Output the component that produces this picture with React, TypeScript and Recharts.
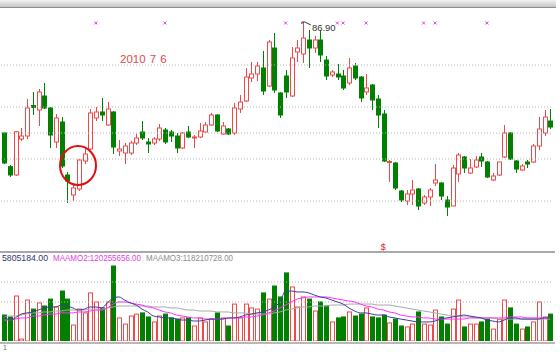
import React from "react";
import { ComposedChart, Bar, Line, XAxis, YAxis, ReferenceLine, ReferenceDot } from "recharts";

// daily candles (price units)
const openPrices = [
  75.8, 72.43, 71.6, 75.2, 75.5, 78.55, 78.1, 79.5, 78.3, 74.9,
  76.9, 71.6, 69.6, 70.2, 73.0, 74.2, 77.3, 77.9, 76.6, 77.9,
  74.0, 73.8, 73.8, 74.8, 75.9, 74.9, 74.8, 75.2, 76.1, 75.9,
  75.5, 74.3, 75.9, 75.3, 75.4, 75.9, 76.6, 77.6, 75.7, 76.2,
  75.8, 78.2, 79.0, 81.3, 81.7, 82.3, 80.5, 84.3, 79.8, 81.5,
  79.5, 83.9, 83.7, 85.1, 84.3, 85.1, 83.1, 81.6, 81.7, 81.5,
  80.8, 82.5, 81.4, 79.9, 80.6, 79.2, 77.7, 72.85, 72.8, 70.0,
  69.0, 69.7, 70.2, 68.8, 69.4, 70.8, 70.8, 69.1, 68.5, 71.7,
  73.4, 71.8, 72.4, 73.4, 72.9, 71.1, 71.6, 73.4, 75.8, 73.0,
  72.1, 72.9, 72.9, 74.5, 75.8, 77.0,
];
const highPrices = [
  75.9, 72.6, 76.0, 76.3, 79.2, 79.9, 80.2, 80.8, 78.4, 77.7,
  77.4, 71.9, 70.8, 73.2, 74.3, 78.2, 78.4, 79.3, 78.9, 78.0,
  75.1, 74.8, 75.0, 75.7, 77.0, 75.3, 75.4, 76.7, 76.3, 76.1,
  75.8, 75.9, 76.5, 75.6, 76.8, 76.9, 77.8, 77.7, 76.9, 76.3,
  78.8, 79.6, 82.3, 82.9, 82.9, 84.0, 85.1, 85.8, 79.9, 82.1,
  84.4, 85.1, 86.9, 86.1, 85.5, 86.1, 83.5, 82.1, 82.7, 82.1,
  83.3, 82.8, 81.5, 81.7, 80.7, 79.6, 78.1, 73.1, 72.9, 70.1,
  70.1, 71.1, 70.3, 69.6, 70.3, 72.7, 70.9, 69.5, 72.6, 73.8,
  73.5, 73.2, 73.5, 73.8, 73.0, 71.8, 72.9, 76.6, 75.9, 73.1,
  72.7, 73.1, 74.7, 77.4, 78.1, 78.2,
];
const lowPrices = [
  72.7, 71.4, 71.5, 75.0, 75.2, 77.6, 76.5, 78.2, 74.3, 74.3,
  72.3, 68.8, 69.0, 70.0, 72.7, 74.1, 77.0, 77.0, 76.5, 73.7,
  73.5, 72.7, 73.6, 74.6, 75.1, 73.8, 74.6, 75.0, 74.7, 74.9,
  73.8, 74.2, 75.3, 74.3, 75.3, 75.8, 76.5, 75.9, 75.6, 75.6,
  75.6, 77.8, 78.9, 80.9, 81.0, 79.6, 80.4, 79.8, 77.3, 79.3,
  79.4, 82.9, 82.8, 82.3, 83.8, 82.9, 81.1, 81.4, 81.1, 80.1,
  80.6, 81.1, 78.9, 79.6, 78.1, 76.3, 72.9, 70.9, 70.1, 68.9,
  68.6, 68.6, 68.1, 68.6, 68.5, 70.5, 69.1, 67.5, 68.5, 70.9,
  71.8, 71.7, 72.3, 72.4, 71.3, 71.0, 71.5, 73.3, 73.1, 71.8,
  72.0, 72.3, 72.8, 74.1, 75.5, 76.2,
];
const closePrices = [
  72.8, 71.6, 75.93, 75.5, 78.3, 78.35, 79.9, 78.3, 75.6, 77.3,
  72.5, 71.0, 70.3, 73.1, 73.7, 77.8, 77.9, 77.6, 78.2, 74.4,
  74.2, 74.5, 74.8, 75.3, 75.3, 74.7, 75.2, 76.3, 74.9, 75.5,
  74.3, 75.8, 75.4, 75.4, 76.0, 76.6, 77.6, 76.0, 76.5, 75.7,
  78.3, 78.9, 81.4, 81.7, 82.5, 80.0, 84.9, 80.1, 77.6, 79.9,
  83.3, 84.3, 85.3, 84.3, 85.1, 83.6, 81.5, 81.9, 81.4, 80.3,
  82.3, 81.3, 79.3, 80.3, 79.1, 77.6, 73.0, 72.95, 70.3, 69.1,
  69.7, 70.1, 68.5, 69.4, 70.1, 71.1, 69.5, 68.4, 72.3, 73.6,
  72.3, 72.3, 73.1, 73.0, 71.4, 71.5, 72.9, 75.8, 73.2, 72.2,
  72.5, 72.7, 74.5, 76.2, 77.4, 76.4,
];

// volume and its three averages (millions)
const volume = [
  135, 125, 234, 10, 213, 166, 198, 182, 218, 177,
  260, 218, 83, 166, 146, 250, 203, 172, 203, 390,
  120, 88, 130, 140, 146, 125, 99, 130, 140, 120,
  114, 120, 120, 78, 120, 99, 114, 146, 120, 78,
  192, 120, 192, 172, 166, 250, 218, 286, 229, 354,
  281, 177, 229, 218, 156, 203, 182, 99, 120, 125,
  151, 130, 140, 172, 125, 120, 135, 94, 114, 78,
  73, 88, 151, 88, 83, 161, 125, 88, 166, 213,
  73, 88, 88, 99, 114, 62, 112, 213, 172, 88,
  62, 73, 99, 203, 125, 140,
];
const maShort = [
  135, 109, 120, 140, 146, 151, 161, 172, 177, 177,
  187, 182, 172, 161, 166, 177, 177, 172, 198, 224,
  229, 213, 198, 187, 166, 151, 130, 125, 120, 120,
  114, 109, 109, 104, 104, 109, 114, 114, 114, 120,
  120, 125, 135, 140, 146, 151, 161, 177, 203, 260,
  260, 255, 255, 250, 239, 229, 224, 213, 203, 192,
  172, 156, 146, 146, 140, 135, 135, 125, 120, 114,
  109, 104, 99, 99, 99, 104, 114, 120, 125, 130,
  135, 130, 125, 120, 109, 104, 99, 109, 120, 120,
  114, 114, 114, 114, 120, 120,
];
const maMid = [
  109, 109, 114, 120, 120, 130, 130, 135, 140, 140,
  146, 146, 146, 151, 151, 156, 161, 161, 172, 192,
  203, 203, 198, 192, 187, 177, 172, 161, 151, 146,
  135, 130, 125, 120, 120, 114, 114, 114, 114, 120,
  120, 120, 125, 125, 130, 135, 146, 156, 172, 187,
  203, 218, 224, 229, 229, 229, 229, 224, 218, 213,
  208, 203, 192, 182, 177, 166, 161, 151, 146, 135,
  130, 125, 125, 120, 120, 114, 114, 114, 114, 114,
  114, 120, 120, 120, 120, 120, 120, 120, 125, 125,
  125, 120, 120, 120, 120, 120,
];
const maLong = [
  125, 130, 130, 135, 140, 146, 146, 151, 151, 156,
  156, 161, 161, 161, 161, 166, 166, 166, 172, 177,
  182, 182, 182, 182, 182, 182, 177, 177, 177, 172,
  172, 166, 161, 161, 156, 156, 156, 151, 151, 151,
  146, 146, 146, 140, 140, 140, 140, 146, 151, 161,
  166, 172, 177, 177, 182, 182, 182, 187, 187, 187,
  192, 192, 192, 192, 192, 187, 187, 187, 182, 177,
  172, 166, 161, 156, 151, 146, 140, 135, 130, 130,
  125, 125, 120, 120, 120, 120, 114, 114, 114, 114,
  114, 114, 114, 114, 114, 114,
];

const priceGrid = [82.6, 78.4, 75.8, 73.2, 69.0];
const volGrid = [306.8, 202.8];
const infoMarks = [16, 28, 49, 58, 59, 63, 73, 75, 84];
const maLabels = ["5805184.00", "MAAMO2:120255656.00", "MAAMO3:118210728.00"];

const UP = "#f04848";
const DOWN = "#008000";

const data = openPrices.map((o, i) => ({
  i,
  open: o,
  high: highPrices[i],
  low: lowPrices[i],
  close: closePrices[i],
  range: [lowPrices[i], highPrices[i]],
  vol: volume[i],
  ma1: maShort[i],
  ma2: maMid[i],
  ma3: maLong[i],
}));

const peakIndex = highPrices.indexOf(Math.max(...highPrices));

const Candle = (props: any) => {
  const { x, y, width, height } = props;
  const d = props.payload ?? data[props.index];
  const k = height / (d.high - d.low);
  const cx = Math.round(x + width / 2) + 0.5;
  const yO = y + (d.high - d.open) * k;
  const yC = y + (d.high - d.close) * k;
  const up = d.close >= d.open;
  const color = up ? UP : DOWN;
  const top = Math.min(yO, yC);
  const bh = Math.max(Math.abs(yC - yO), 1);
  return (
    <g>
      <line x1={cx} x2={cx} y1={y} y2={y + height} stroke={color} />
      <rect x={cx - 2} y={top} width={4} height={bh} fill={up ? "#fff" : color} stroke={color} />
    </g>
  );
};

const VolBar = (props: any) => {
  const { x, y, width, height } = props;
  const d = props.payload ?? data[props.index];
  const up = d.close >= d.open;
  const cx = Math.round(x + width / 2) + 0.5;
  if (height <= 0) return null;
  return (
    <rect
      x={cx - 2}
      y={y}
      width={4}
      height={height}
      fill={up ? "#fff" : DOWN}
      stroke={up ? UP : DOWN}
    />
  );
};

const font = "'Liberation Sans', Arial, sans-serif";

export default function App() {
  return (
    <div style={{ position: "absolute", left: 0, top: 0, width: 560, height: 352, background: "#fff", overflow: "hidden" }}>
      <div
        style={{
          position: "absolute",
          left: 0,
          top: 0,
          width: 556,
          height: 7,
          background: "linear-gradient(#f2f2f2, #c6c6c6)",
          borderBottom: "1px solid #8c8c8c",
        }}
      />

      <div style={{ position: "absolute", left: 0, top: 0 }}>
        <ComposedChart width={560} height={252} data={data} margin={{ top: 10, right: 7, bottom: 2, left: 1 }}>
          <XAxis dataKey="i" hide />
          <YAxis hide type="number" domain={[64.1, 88.1]} allowDataOverflow />
          {priceGrid.map((p) => (
            <ReferenceLine key={p} y={p} stroke="#b4b4b4" strokeDasharray="1 2" />
          ))}
          <Bar dataKey="range" shape={(p: any) => <Candle {...p} />} isAnimationActive={false} />
          {infoMarks.map((m) => (
            <ReferenceDot
              key={m}
              x={m}
              y={86.8}
              shape={(p: any) => (
                <g stroke="#e040e0" strokeWidth={1}>
                  <line x1={p.cx - 1.5} y1={p.cy - 1.5} x2={p.cx + 1.5} y2={p.cy + 1.5} />
                  <line x1={p.cx - 1.5} y1={p.cy + 1.5} x2={p.cx + 1.5} y2={p.cy - 1.5} />
                </g>
              )}
            />
          ))}
          <ReferenceDot
            x={peakIndex}
            y={highPrices[peakIndex]}
            shape={(p: any) => (
              <g>
                <polyline
                  points={`${p.cx - 1},${p.cy + 2} ${p.cx - 1},${p.cy} ${p.cx + 2},${p.cy} ${p.cx + 8},${p.cy + 3}`}
                  fill="none"
                  stroke="#333"
                />
                <text x={p.cx + 9} y={p.cy + 9} fontSize={9.5} fontFamily={font} fill="#333">
                  {highPrices[peakIndex].toFixed(2)}
                </text>
              </g>
            )}
          />
          <ReferenceDot
            x={13}
            y={72.55}
            shape={(p: any) => (
              <ellipse cx={p.cx - 0.6} cy={p.cy} rx={18} ry={19.5} fill="none" stroke="#e01010" strokeWidth={2} />
            )}
          />
          <ReferenceDot
            x={66}
            y={64.4}
            shape={(p: any) => (
              <text x={p.cx} y={p.cy + 3} textAnchor="middle" fontSize={9} fontFamily={font} fill="#e02020">
                $
              </text>
            )}
          />
        </ComposedChart>
      </div>

      <div style={{ position: "absolute", left: 0, top: 251, width: 555, height: 2, background: "#a8a8a8" }} />

      <div style={{ position: "absolute", left: 0, top: 252 }}>
        <ComposedChart width={560} height={100} data={data} margin={{ top: 10, right: 7, bottom: 11, left: 1 }}>
          <XAxis dataKey="i" hide />
          <YAxis hide type="number" domain={[0, 410.8]} allowDataOverflow />
          {volGrid.map((v) => (
            <ReferenceLine key={v} y={v} stroke="#b4b4b4" strokeDasharray="1 2" />
          ))}
          <Bar dataKey="vol" shape={(p: any) => <VolBar {...p} />} isAnimationActive={false} />
          <Line type="monotone" dataKey="ma3" stroke="#a8a8a8" strokeWidth={1} dot={false} isAnimationActive={false} />
          <Line type="monotone" dataKey="ma2" stroke="#ff30ff" strokeWidth={1} dot={false} isAnimationActive={false} />
          <Line type="monotone" dataKey="ma1" stroke="#3c3c9c" strokeWidth={1} dot={false} isAnimationActive={false} />
        </ComposedChart>
      </div>

      <div style={{ position: "absolute", left: 0, top: 342, width: 555, height: 2, background: "#b8b8b8" }} />

      <svg width={560} height={352} style={{ position: "absolute", left: 0, top: 0, pointerEvents: "none" }}>
        <text x={120} y={63} fontSize={11.5} fontFamily={font} fill="#e04848" wordSpacing={1}>
          2010 7 6
        </text>
        <text x={2} y={261} fontSize={8.8} fontFamily={font} fill="#35356e" textLength={46} lengthAdjust="spacingAndGlyphs">
          {maLabels[0]}
        </text>
        <text x={53} y={261} fontSize={8.8} fontFamily={font} fill="#e040e0" textLength={88} lengthAdjust="spacingAndGlyphs">
          {maLabels[1]}
        </text>
        <text x={146} y={261} fontSize={8.8} fontFamily={font} fill="#8c8c8c" textLength={87} lengthAdjust="spacingAndGlyphs">
          {maLabels[2]}
        </text>
        <text x={3} y={350} fontSize={7} fontFamily={font} fill="#666">
          1
        </text>
      </svg>
    </div>
  );
}
